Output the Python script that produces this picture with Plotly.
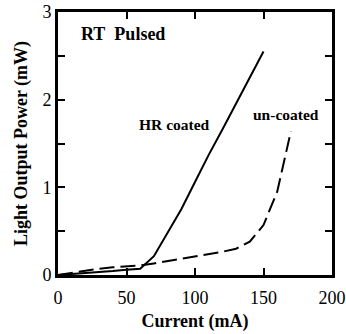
import plotly.graph_objects as go

# Data
hr_current = [0, 10, 20, 30, 40, 50, 60, 70, 80, 90, 100, 110, 120, 130, 140, 150]
hr_power = [0, 0.01, 0.02, 0.03, 0.045, 0.06, 0.072, 0.215, 0.49, 0.75, 1.06, 1.37, 1.66, 1.96, 2.26, 2.55]

un_current = [0, 10, 20, 30, 40, 50, 60, 70, 80, 90, 100, 110, 120, 130, 140, 150, 160, 170]
un_power = [0, 0.025, 0.055, 0.072, 0.087, 0.097, 0.108, 0.132, 0.157, 0.182, 0.21, 0.238, 0.265, 0.3, 0.38, 0.57, 0.95, 1.64]

x_ticks = [0, 50, 100, 150, 200]
y_tickvals = [0, 0.5, 1, 1.5, 2, 2.5, 3]
y_ticktext = ["0", "", "1", "", "2", "", "3"]

FONT = "Liberation Serif"

def bold(size):
    return dict(family=FONT, size=size, color="black")

fig = go.Figure()
fig.add_trace(go.Scatter(x=hr_current, y=hr_power, mode="lines",
                         line=dict(color="black", width=2), showlegend=False))
fig.add_trace(go.Scatter(x=un_current, y=un_power, mode="lines",
                         line=dict(color="black", width=2, dash="15px,6px"), showlegend=False))

fig.add_annotation(x=15, y=2.75, text="<b>RT\u00a0\u00a0Pulsed</b>", showarrow=False, xanchor="left",
                   font=bold(18))
fig.add_annotation(x=84.7, y=1.72, text="<b>HR coated</b>", showarrow=False, font=bold(15.5))
fig.add_annotation(x=166.4, y=1.836, text="<b>un-coated</b>", showarrow=False, font=bold(15.5))

axis_common = dict(showline=True, linewidth=3, linecolor="black", mirror="ticks",
                   ticks="inside", ticklen=7, tickwidth=2, tickcolor="black",
                   showgrid=False, zeroline=False, automargin=False,
                   tickfont=bold(18))

fig.update_xaxes(range=[0, 200], tickvals=x_ticks, ticklabelstandoff=4,
                 title=dict(text="<b>Current (mA)</b>", standoff=8, font=bold(18)),
                 **axis_common)
fig.update_yaxes(range=[0, 3], tickvals=y_tickvals, ticktext=y_ticktext,
                 title=dict(text="<b>Light Output Power (mW)</b>", standoff=11, font=bold(18)),
                 **axis_common)

fig.update_layout(width=346, height=334, margin=dict(l=58, r=14, t=12, b=59),
                  plot_bgcolor="white", paper_bgcolor="white",
                  font=dict(family=FONT))

fig.write_html("out.html")
